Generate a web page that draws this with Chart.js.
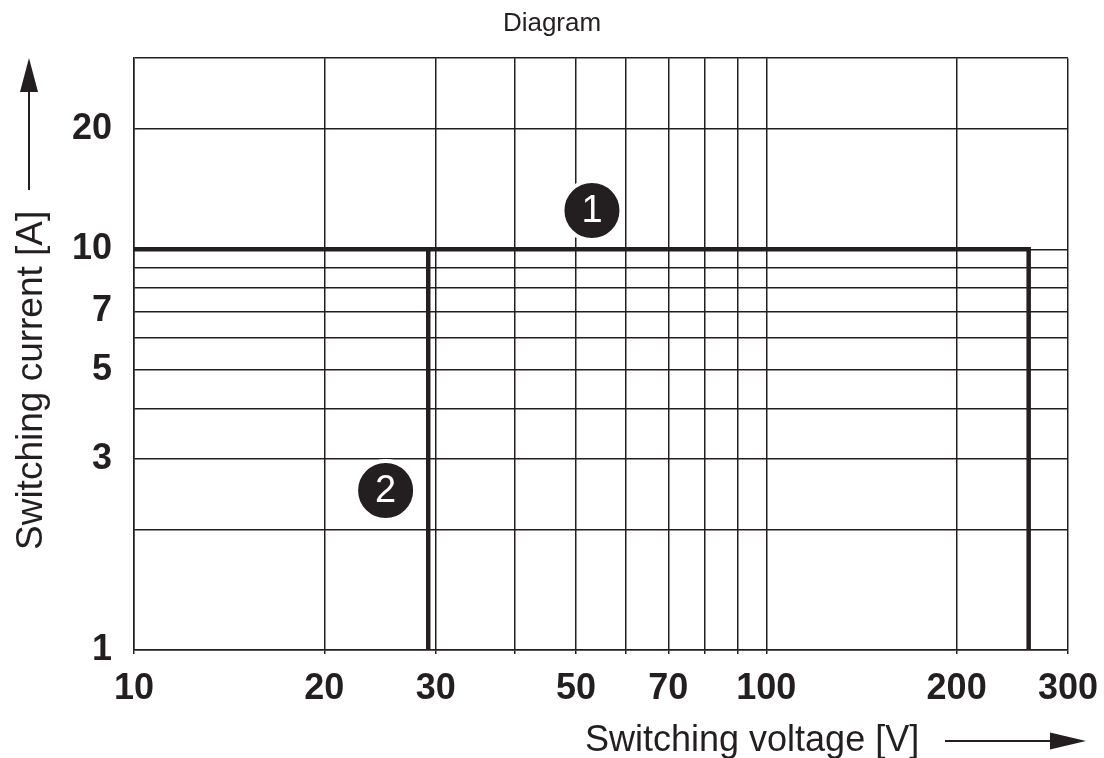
<!DOCTYPE html>
<html>
<head>
<meta charset="utf-8">
<script src="https://cdn.jsdelivr.net/npm/chart.js@4.4.1/dist/chart.umd.min.js"></script>
<style>
html,body{margin:0;padding:0;background:#ffffff;}
#wrap{width:1104px;height:758px;position:relative;}
</style>
</head>
<body>
<div id="wrap"><canvas id="c"></canvas></div>
<script>
// ---- data ----
const xGridValues = [10, 20, 30, 40, 50, 60, 70, 80, 90, 100, 200, 300];
const xTickLabels = [10, 20, 30, 50, 70, 100, 200, 300];
const yGridValues = [1, 2, 3, 4, 5, 6, 7, 8, 9, 10, 20, 30];
const yTickLabels = [1, 3, 5, 7, 10, 20];
const curve1X = [10, 260, 260];
const curve1Y = [10, 10, 1];
const curve2X = [29.2, 29.2];
const curve2Y = [10, 1];
const markerX = [53, 25];
const markerY = [12.5, 2.5];
const markerLabels = ['1', '2'];
const titleText = 'Diagram';
const xTitleText = 'Switching voltage [V]';
const yTitleText = 'Switching current [A]';

const FONT = '"Liberation Sans", Arial, Helvetica, sans-serif';
const INK = '#231f20';

const toPts = (xs, ys) => xs.map((x, i) => ({ x: x, y: ys[i] }));

const annotPlugin = {
  id: 'annot',
  afterDatasetsDraw(chart) {
    const ctx = chart.ctx;
    const meta = chart.getDatasetMeta(0);
    ctx.save();
    ctx.fillStyle = '#ffffff';
    ctx.font = '38px ' + FONT;
    ctx.textAlign = 'center';
    ctx.textBaseline = 'middle';
    meta.data.forEach((pt, i) => ctx.fillText(markerLabels[i], pt.x, pt.y + 1));
    ctx.restore();
  },
  afterDraw(chart) {
    const ctx = chart.ctx;
    ctx.save();
    ctx.fillStyle = INK;
    ctx.strokeStyle = INK;
    // x title + arrow
    ctx.font = '36px ' + FONT;
    ctx.textAlign = 'left';
    ctx.textBaseline = 'alphabetic';
    ctx.fillText(xTitleText, 585, 751);
    const ay = 741;
    ctx.lineWidth = 2;
    ctx.beginPath();
    ctx.moveTo(945, ay); ctx.lineTo(1052, ay); ctx.stroke();
    ctx.beginPath();
    ctx.moveTo(1050, ay - 8.5); ctx.lineTo(1086, ay); ctx.lineTo(1050, ay + 8.5); ctx.closePath(); ctx.fill();
    // y title + arrow
    ctx.font = '37px ' + FONT;
    ctx.save();
    ctx.translate(42, 550);
    ctx.rotate(-Math.PI / 2);
    ctx.textAlign = 'left';
    ctx.textBaseline = 'alphabetic';
    ctx.fillText(yTitleText, 0, 0);
    ctx.restore();
    const ax = 29;
    ctx.beginPath();
    ctx.moveTo(ax, 190); ctx.lineTo(ax, 90); ctx.stroke();
    ctx.beginPath();
    ctx.moveTo(ax - 9, 92); ctx.lineTo(ax, 58); ctx.lineTo(ax + 9, 92); ctx.closePath(); ctx.fill();
    ctx.restore();
  }
};

new Chart(document.getElementById('c'), {
  type: 'scatter',
  data: {
    datasets: [
      {
        label: 'markers',
        data: toPts(markerX, markerY),
        showLine: false,
        pointRadius: 29.5,
        pointBackgroundColor: INK,
        pointBorderColor: '#ffffff',
        pointBorderWidth: 4,
        pointHoverRadius: 29.5
      },
      {
        label: 'curve1',
        data: toPts(curve1X, curve1Y),
        showLine: true,
        borderColor: INK,
        borderWidth: 4.5,
        pointRadius: 0,
        borderJoinStyle: 'miter',
        borderCapStyle: 'butt',
        tension: 0,
        clip: 6
      },
      {
        label: 'curve2',
        data: toPts(curve2X, curve2Y),
        showLine: true,
        borderColor: INK,
        borderWidth: 4.5,
        pointRadius: 0,
        borderCapStyle: 'butt',
        tension: 0,
        clip: 6
      }
    ]
  },
  options: {
    responsive: true,
    maintainAspectRatio: false,
    animation: false,
    events: [],
    layout: { padding: 0 },
    plugins: {
      legend: { display: false },
      tooltip: { enabled: false },
      title: {
        display: true,
        text: titleText,
        color: INK,
        font: { family: FONT, size: 26, weight: 'normal' },
        padding: { top: 8, bottom: 19 }
      }
    },
    scales: {
      x: {
        type: 'logarithmic',
        position: 'bottom',
        min: 10,
        max: 300,
        afterBuildTicks(s) { s.ticks = xGridValues.map(v => ({ value: v })); },
        afterFit(s) { s.height = 108; },
        ticks: {
          autoSkip: false,
          maxRotation: 0,
          minRotation: 0,
          padding: 6,
          color: INK,
          font: { family: FONT, size: 36, weight: 'bold', lineHeight: 1.59 },
          callback: (v) => xTickLabels.includes(v) ? String(v) : ''
        },
        grid: { color: INK, lineWidth: 1.5, drawTicks: true, tickLength: 4, tickColor: INK },
        border: { display: true, color: INK, width: 1.5 },
        title: { display: false }
      },
      y: {
        type: 'logarithmic',
        position: 'left',
        min: 1,
        max: 30,
        afterBuildTicks(s) { s.ticks = yGridValues.map(v => ({ value: v })); },
        afterFit(s) { s.width = 134; },
        ticks: {
          autoSkip: false,
          padding: 22,
          color: INK,
          font: { family: FONT, size: 36, weight: 'bold' },
          callback: (v) => yTickLabels.includes(v) ? String(v) : ''
        },
        grid: { color: INK, lineWidth: 1.5, drawTicks: false },
        border: { display: true, color: INK, width: 1.5 },
        title: { display: false }
      },
      yr: {
        type: 'linear',
        position: 'right',
        display: true,
        min: 0,
        max: 1,
        afterFit(s) { s.width = 36; },
        ticks: { display: false },
        grid: { display: false, drawOnChartArea: false },
        border: { display: false }
      }
    }
  },
  plugins: [annotPlugin]
});
</script>
</body>
</html>
